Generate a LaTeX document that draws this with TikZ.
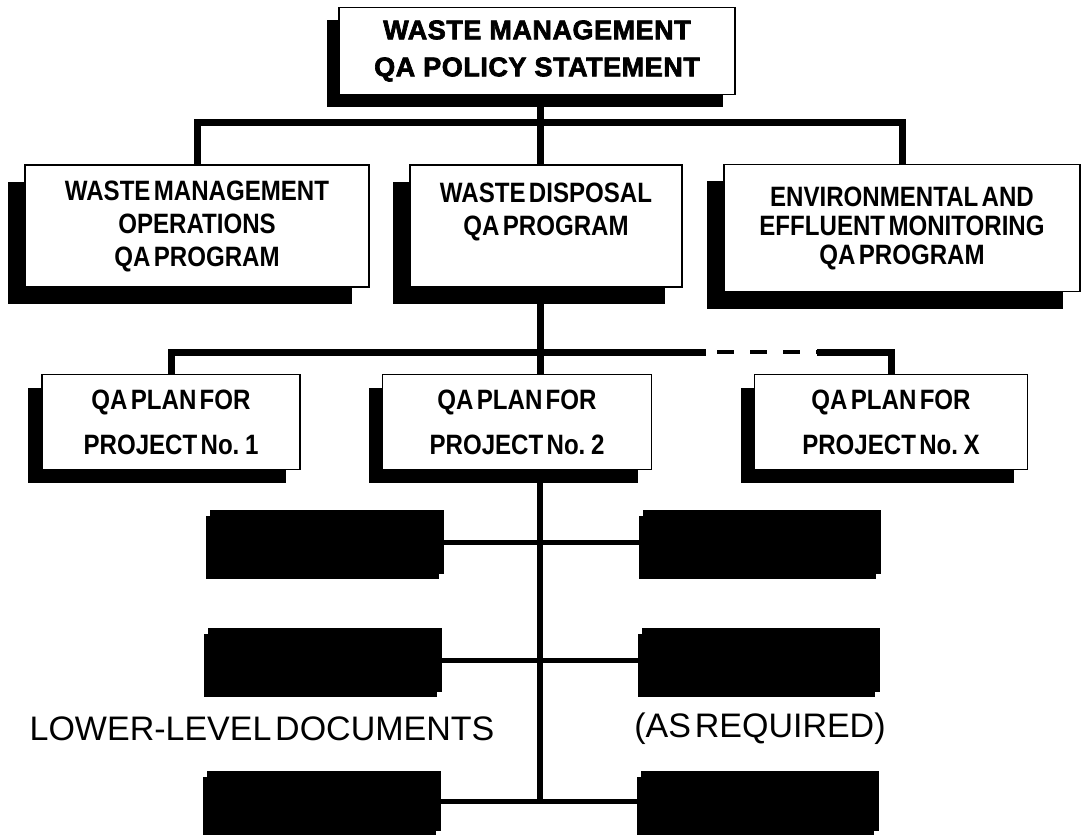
\documentclass[tikz,border=0pt]{standalone}
\usepackage{fontspec}
\setmainfont{Liberation Sans}
\newfontfamily\headfont{Liberation Sans}[LetterSpace=2,BoldFeatures={FakeBold=2.5}]
\newfontfamily\boxfont{Liberation Sans}[FakeStretch=0.86,WordSpace=0.5]
\newfontfamily\notefont{Liberation Sans}[WordSpace=0.4]
\usepackage{tikz}
\usetikzlibrary{
  shadows,
  positioning,
  calc,
  }

\begin{document}
\begin{tikzpicture}[x=1pt, y=-1pt,
    every node/.style={rectangle, draw, line width=1.5pt, fill=white, inner sep=0pt, align=center,
      font=\boxfont\bfseries\fontsize{28}{33}\selectfont},
    box/.style={minimum height=122pt, drop shadow={shadow xshift=-17pt, shadow yshift=-17pt, fill=black, opacity=1}},
    plan/.style={minimum height=95pt, drop shadow={shadow xshift=-14pt, shadow yshift=-13pt, fill=black, opacity=1}},
    doc/.style={fill=black, minimum width=233pt, minimum height=63pt, drop shadow={shadow xshift=-5pt, shadow yshift=-5pt, fill=black, opacity=1}},
    note/.style={draw=none, fill=none, font=\notefont\fontsize{34}{40}\selectfont},
    bar/.style={line width=7pt},
  ]
  \useasboundingbox (0,0) rectangle (1086,837);
  \node[minimum width=396pt, minimum height=87pt,
    drop shadow={shadow xshift=-12pt, shadow yshift=-13pt, fill=black, opacity=1},
    font=\headfont\bfseries\fontsize{27}{37}\selectfont] (t1) at (537,51) {WASTE MANAGEMENT\\QA POLICY STATEMENT};
  \node[box, minimum width=344pt] (t2) at (197,226) {WASTE MANAGEMENT\\OPERATIONS\\QA PROGRAM};
  \node[box, minimum width=272pt] (t3) at (546,226) {WASTE DISPOSAL\\QA PROGRAM\\~};
  \node[box, minimum width=356pt, minimum height=127pt,
    font=\boxfont\bfseries\fontsize{28}{29}\selectfont] (t4) at (902,228) {ENVIRONMENTAL AND\\EFFLUENT MONITORING\\QA PROGRAM};

  \node[plan, minimum width=258pt] (p1) at (171,422) {QA PLAN FOR\\[12pt]PROJECT No. 1};
  \node[plan, minimum width=269pt] (p2) at (517,422) {QA PLAN FOR\\[12pt]PROJECT No. 2};
  \node[plan, minimum width=273pt] (p3) at (891,422) {QA PLAN FOR\\[12pt]PROJECT No. X};

  \node[doc] (d1) at (327,542) {};
  \node[doc] (d2) at (325,660) {};
  \node[doc, minimum height=58pt] (d3) at (324,801) {};
  \node[doc, minimum width=237pt] (e1) at (762,542) {};
  \node[doc, minimum width=237pt] (e2) at (761,660) {};
  \node[doc, minimum width=237pt, minimum height=58pt] (e3) at (760,801) {};

  \node[note] (lld) at (262,729) {LOWER-LEVEL DOCUMENTS};
  \node[note] (asr) at (760,729) {(AS REQUIRED)};

  % connectors
  \coordinate (b1) at (540,123);
  \coordinate (s) at (540,0);
  \coordinate (j1) at (706,352);
  \coordinate (j2) at (817,352);
  \draw[bar] (t1.south -| b1) -- (b1) -- (t3.north -| b1);
  \draw[bar] (t2.north) |- (b1) -| (t4.north);
  \draw[bar] (t3.south -| s) -- (p2.north -| s);
  \draw[bar] (p1.north) |- (j1);
  \draw[line width=4pt, dash pattern=on 17pt off 16pt, dash phase=22pt] (j1) -- (j2);
  \draw[bar] (j2) -| (p3.north);
  \draw[line width=6pt] (p2.south -| s) -- (d3.east -| s);
  \draw[line width=5pt] (d1.east) -- (e1.west);
  \draw[line width=5pt] (d2.east) -- (e2.west);
  \draw[line width=5pt] (d3.east) -- (e3.west);
\end{tikzpicture}
\end{document}
